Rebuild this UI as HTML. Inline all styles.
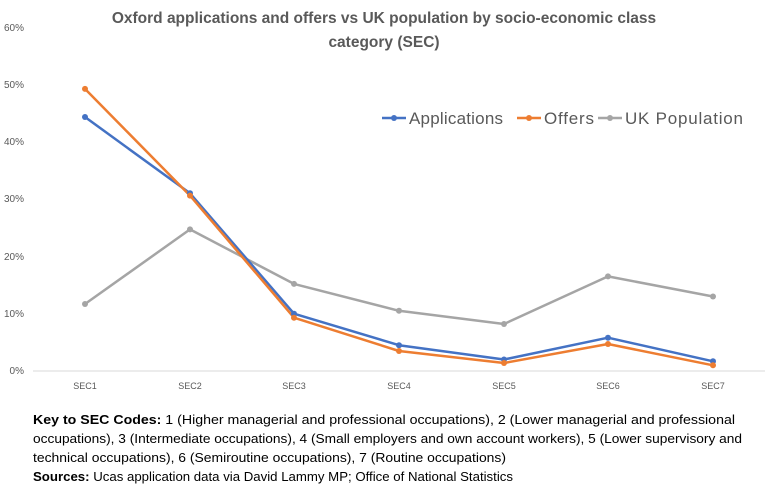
<!DOCTYPE html>
<html><head><meta charset="utf-8"><style>
body{margin:0;background:#fff;}
svg{display:block;font-family:"Liberation Sans",Calibri,sans-serif;}
</style></head><body>
<svg width="769" height="487" viewBox="0 0 769 487">
<rect width="769" height="487" fill="#fff"/>
<text x="384" y="23" text-anchor="middle" font-size="15.5" font-weight="bold" fill="#595959">Oxford applications and offers vs UK population by socio-economic class</text>
<text x="384" y="47" text-anchor="middle" font-size="15.5" font-weight="bold" fill="#595959">category (SEC)</text>
<g font-size="10" fill="#595959" text-anchor="end">
<text x="24" y="374">0%</text><text x="24" y="317">10%</text><text x="24" y="260">20%</text><text x="24" y="202">30%</text><text x="24" y="145">40%</text><text x="24" y="88">50%</text><text x="24" y="31">60%</text>
</g>
<line x1="33" y1="371" x2="765" y2="371" stroke="#d9d9d9" stroke-width="1"/>
<g font-size="9" fill="#595959" text-anchor="middle">
<text x="85" y="389">SEC1</text><text x="190" y="389">SEC2</text><text x="294" y="389">SEC3</text><text x="399" y="389">SEC4</text><text x="504" y="389">SEC5</text><text x="608" y="389">SEC6</text><text x="713" y="389">SEC7</text>
</g>
<g fill="none" stroke-width="2.5" stroke-linejoin="round">
<polyline stroke="#a5a5a5" points="85,304 190,229.4 294,283.9 399,310.8 504,324 608,276.4 713,296.5"/>
<polyline stroke="#4472c4" points="85,117 190,193.3 294,313.7 399,345.2 504,359.5 608,337.7 713,361.3"/>
<polyline stroke="#ed7d31" points="85,88.9 190,195.6 294,317.7 399,351 504,363 608,344 713,365.3"/>
</g>
<g fill="#a5a5a5"><circle cx="85" cy="304" r="3"/><circle cx="190" cy="229.4" r="3"/><circle cx="294" cy="283.9" r="3"/><circle cx="399" cy="310.8" r="3"/><circle cx="504" cy="324" r="3"/><circle cx="608" cy="276.4" r="3"/><circle cx="713" cy="296.5" r="3"/></g>
<g fill="#4472c4"><circle cx="85" cy="117" r="3"/><circle cx="190" cy="193.3" r="3"/><circle cx="294" cy="313.7" r="3"/><circle cx="399" cy="345.2" r="3"/><circle cx="504" cy="359.5" r="3"/><circle cx="608" cy="337.7" r="3"/><circle cx="713" cy="361.3" r="3"/></g>
<g fill="#ed7d31"><circle cx="85" cy="88.9" r="3"/><circle cx="190" cy="195.6" r="3"/><circle cx="294" cy="317.7" r="3"/><circle cx="399" cy="351" r="3"/><circle cx="504" cy="363" r="3"/><circle cx="608" cy="344" r="3"/><circle cx="713" cy="365.3" r="3"/></g>
<g font-size="17" fill="#595959">
<line x1="382" y1="118" x2="406" y2="118" stroke="#4472c4" stroke-width="2.5"/><circle cx="394" cy="118" r="3" fill="#4472c4"/>
<text x="409" y="124" textLength="94">Applications</text>
<line x1="517" y1="118" x2="541" y2="118" stroke="#ed7d31" stroke-width="2.5"/><circle cx="529" cy="118" r="3" fill="#ed7d31"/>
<text x="544" y="124" textLength="50">Offers</text>
<line x1="598" y1="118" x2="622" y2="118" stroke="#a5a5a5" stroke-width="2.5"/><circle cx="610" cy="118" r="3" fill="#a5a5a5"/>
<text x="625" y="124" textLength="118">UK Population</text>
</g>
<g font-size="12.5" fill="#000">
<text x="33" y="424" textLength="702" lengthAdjust="spacingAndGlyphs"><tspan font-weight="bold">Key to SEC Codes:</tspan> 1 (Higher managerial and professional occupations), 2 (Lower managerial and professional</text>
<text x="33" y="443" textLength="709" lengthAdjust="spacingAndGlyphs">occupations), 3 (Intermediate occupations), 4 (Small employers and own account workers), 5 (Lower supervisory and</text>
<text x="33" y="462" textLength="473" lengthAdjust="spacingAndGlyphs">technical occupations), 6 (Semiroutine occupations), 7 (Routine occupations)</text>
<text x="33" y="481" textLength="480" lengthAdjust="spacingAndGlyphs"><tspan font-weight="bold">Sources:</tspan> Ucas application data via David Lammy MP; Office of National Statistics</text>
</g>
</svg>
</body></html>
